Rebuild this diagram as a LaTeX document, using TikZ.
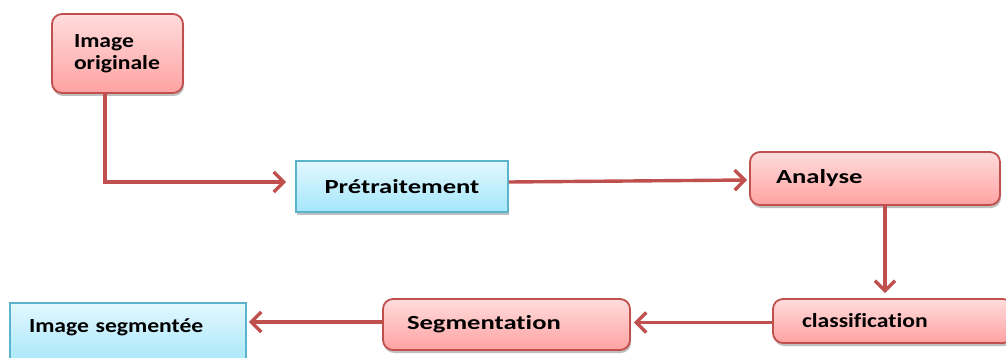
\documentclass[tikz,border=0pt]{standalone}
\usepackage{fontspec}
\setmainfont{Carlito}[FakeStretch=1.33,Ligatures={NoCommon}]
\newfontfamily\narrowcarlito{Carlito}[FakeStretch=1.18,Ligatures={NoCommon}]
\usetikzlibrary{arrows.meta,shadows,calc}
\definecolor{rline}{HTML}{C0504D}
\definecolor{rtop}{HTML}{FFDCDC}
\definecolor{rbot}{HTML}{FFA2A2}
\definecolor{bline}{HTML}{5BB3CC}
\definecolor{btop}{HTML}{E2F8FF}
\definecolor{bbot}{HTML}{A4E6FA}
\tikzset{
  pinkbox/.style={draw=rline, line width=1.8pt, rounded corners=10pt,
    top color=rtop, bottom color=rbot, inner xsep=0pt, inner ysep=0pt,
    align=left, font=\fontsize{20}{22}\selectfont\bfseries,
    drop shadow={shadow xshift=1pt, shadow yshift=-3pt, opacity=0.25, fill=black}},
  bluebox/.style={draw=bline, line width=1.8pt,
    top color=btop, bottom color=bbot, inner xsep=0pt, inner ysep=0pt,
    align=left, font=\fontsize{20}{22}\selectfont\bfseries,
    drop shadow={shadow xshift=1pt, shadow yshift=-3pt, opacity=0.25, fill=black}},
  narrowtext/.style={font=\narrowcarlito\fontsize{20}{22}\selectfont\bfseries},
  arr/.style={draw=rline, line width=3.4pt,
    -{Straight Barb[length=10pt,width=20pt]}}
}
\begin{document}
\begin{tikzpicture}[x=1pt,y=-1pt]
\useasboundingbox (0,0) rectangle (1006,358);
\node[pinkbox, narrowtext, minimum width=131pt, minimum height=79pt, text width=87pt] (orig) at (117.5,53.5) {Image\\originale};
\node[bluebox, minimum width=212pt, minimum height=51pt, text width=180pt, align=center] (pre) at (402,186.5) {Prétraitement};
\node[pinkbox, minimum width=250pt, minimum height=53pt, text width=198pt] (an) at (875,178.5) {Analyse};
\node[pinkbox, narrowtext, minimum width=240pt, minimum height=44pt, text width=182pt] (cls) at (893,321) {classification};
\node[pinkbox, minimum width=247pt, minimum height=51pt, text width=199pt] (seg) at (506.5,324.5) {Segmentation};
\node[bluebox, narrowtext, minimum width=236pt, minimum height=64pt, text width=198pt, text depth=18pt] (out) at (128,335) {Image segmentée};
\draw[arr] ([xshift=-12.5pt]orig.south) |- ([shift={(-9pt,4.5pt)}]pre.west);
\draw[arr] ([yshift=4.5pt]pre.east) -- ([shift={(-2pt,-1.5pt)}]an.west);
\draw[arr] ([xshift=10pt]an.south) -- ([shift={(10pt,5pt)}]an.south |- cls.north);
\draw[arr] ([yshift=-1.5pt]cls.west) -- ([xshift=3pt,yshift=-1.5pt]cls.west -| seg.east);
\draw[arr] ([yshift=2.5pt]seg.west) -- ([xshift=2pt,yshift=2.5pt]seg.west -| out.east);
\end{tikzpicture}
\end{document}
